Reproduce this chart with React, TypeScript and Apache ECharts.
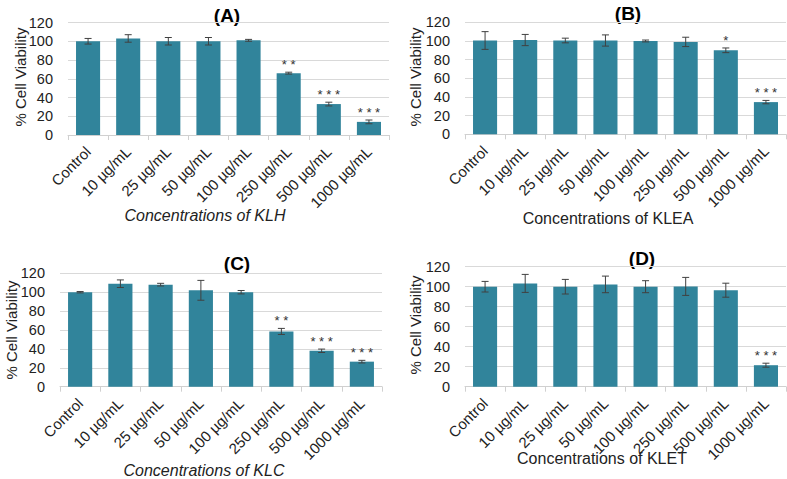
import React, { useEffect, useRef } from "react";
import * as echarts from "echarts";

const categories = ["Control", "10 µg/mL", "25 µg/mL", "50 µg/mL", "100 µg/mL", "250 µg/mL", "500 µg/mL", "1000 µg/mL"];
const yTicks = [0, 20, 40, 60, 80, 100, 120];

const klhValues = [100, 103, 100, 100, 101, 66, 33, 14];
const klhErrors = [3, 4, 4, 4, 1, 1, 2, 2];
const klhStars = ["", "", "", "", "", "**", "***", "***"];

const kleaValues = [100.5, 101, 100.5, 100.5, 100, 99, 90, 34.5];
const kleaErrors = [9.5, 6, 2.5, 6, 1, 5, 2.5, 1.8];
const kleaStars = ["", "", "", "", "", "", "*", "***"];

const klcValues = [100, 109, 108, 102, 100, 58.5, 38, 26.5];
const klcErrors = [0.7, 4, 1.4, 10.5, 1.8, 3.2, 1.8, 1.4];
const klcStars = ["", "", "", "", "", "**", "***", "***"];

const kletValues = [100, 103.3, 100, 102.3, 100, 100.3, 96.5, 21.5];
const kletErrors = [5.3, 9, 7.3, 8.3, 6, 9, 7, 2];
const kletStars = ["", "", "", "", "", "", "", "***"];

const panelTitles = ["(A)", "(B)", "(C)", "(D)"];
const xTitles = ["Concentrations of KLH", "Concentrations of KLEA", "Concentrations of KLC", "Concentrations of KLET"];

const BAR = "#31849B";
const FONT = "'Liberation Sans', Arial, sans-serif";
const TXT = "#222";

export default function App() {
  const ref = useRef<HTMLDivElement>(null);
  useEffect(() => {
    if (!ref.current) return;
    const chart = echarts.init(ref.current, null, { renderer: "svg" });
    const panels = [
      { v: klhValues, e: klhErrors, s: klhStars },
      { v: kleaValues, e: kleaErrors, s: kleaStars },
      { v: klcValues, e: klcErrors, s: klcStars },
      { v: kletValues, e: kletErrors, s: kletStars },
    ];
    const grids = [
      { left: 68, width: 321, top: 22.5, height: 112.5 },
      { left: 465, width: 321, top: 22.3, height: 112 },
      { left: 60, width: 322, top: 273.3, height: 113.4 },
      { left: 465, width: 321, top: 266.7, height: 120 },
    ];
    const titlePos = [
      [227, 15], [628, 13], [237, 263], [642, 258],
    ];
    const xTitlePos = [
      [205, 215, true], [608, 218, false], [204, 470, true], [602, 458, false],
    ];
    const yTitlePos = [
      [20, 77], [415, 77], [11, 330], [415, 325],
    ];
    const graphics: any[] = [];
    panelTitles.forEach((t, i) => {
      graphics.push({
        type: "text", x: titlePos[i][0], y: titlePos[i][1],
        style: { text: t, font: `bold 19px ${FONT}`, fill: "#000", textAlign: "center", textVerticalAlign: "middle" },
      });
    });
    xTitles.forEach((t, i) => {
      graphics.push({
        type: "text", x: xTitlePos[i][0] as number, y: xTitlePos[i][1] as number,
        style: { text: t, font: `${xTitlePos[i][2] ? "italic " : ""}16px ${FONT}`, fill: TXT, textAlign: "center", textVerticalAlign: "middle" },
      });
    });
    yTitlePos.forEach((p) => {
      graphics.push({
        type: "text", x: p[0], y: p[1], rotation: Math.PI / 2,
        style: { text: "% Cell Viability", font: `15px ${FONT}`, fill: TXT, textAlign: "center", textVerticalAlign: "middle" },
      });
    });

    const series: any[] = [];
    panels.forEach((p, i) => {
      series.push({
        type: "bar", xAxisIndex: i, yAxisIndex: i, data: p.v, barWidth: "60%",
        itemStyle: { color: BAR }, z: 2,
      });
      series.push({
        type: "custom", xAxisIndex: i, yAxisIndex: i, z: 5,
        data: p.v.map((v, k) => [k, v, p.e[k]]),
        renderItem: (params: any, api: any) => {
          const x = api.value(0);
          const v = api.value(1);
          const e = api.value(2);
          const top = api.coord([x, v + e]);
          const bot = api.coord([x, v - e]);
          const hw = 3.5;
          const st = { stroke: "#404040", lineWidth: 1 };
          const children: any[] = [
            { type: "line", shape: { x1: top[0], y1: top[1], x2: bot[0], y2: bot[1] }, style: st },
            { type: "line", shape: { x1: top[0] - hw, y1: top[1], x2: top[0] + hw, y2: top[1] }, style: st },
            { type: "line", shape: { x1: bot[0] - hw, y1: bot[1], x2: bot[0] + hw, y2: bot[1] }, style: st },
          ];
          const star = p.s[params.dataIndex];
          if (star) {
            children.push({
              type: "text", x: top[0], y: top[1] - 1,
              style: { text: star.split("").join(" "), font: `13px ${FONT}`, fill: "#333", textAlign: "center", textVerticalAlign: "bottom" },
            });
          }
          return { type: "group", children };
        },
      });
    });

    chart.setOption({
      animation: false,
      textStyle: { fontFamily: FONT },
      grid: grids.map((g) => ({ ...g, containLabel: false })),
      xAxis: grids.map((_, i) => ({
        type: "category", gridIndex: i, data: categories,
        axisLine: { lineStyle: { color: "#D0D0D0" } },
        axisTick: { show: true, alignWithLabel: false, length: 5, lineStyle: { color: "#D0D0D0" } },
        axisLabel: { rotate: 45, fontSize: 15, color: TXT, margin: 14, interval: 0, fontFamily: FONT },
      })),
      yAxis: grids.map((_, i) => ({
        type: "value", gridIndex: i, min: yTicks[0], max: yTicks[yTicks.length - 1], interval: 20,
        axisLine: { show: false }, axisTick: { show: false },
        splitLine: { lineStyle: { color: "#D9D9D9" } },
        axisLabel: { fontSize: 14.5, color: TXT, margin: 15, fontFamily: FONT },
      })),
      series,
      graphic: graphics,
    });
    return () => chart.dispose();
  }, []);
  return <div ref={ref} style={{ width: 787, height: 479, position: "absolute", left: 0, top: 0, background: "#fff" }} />;
}
